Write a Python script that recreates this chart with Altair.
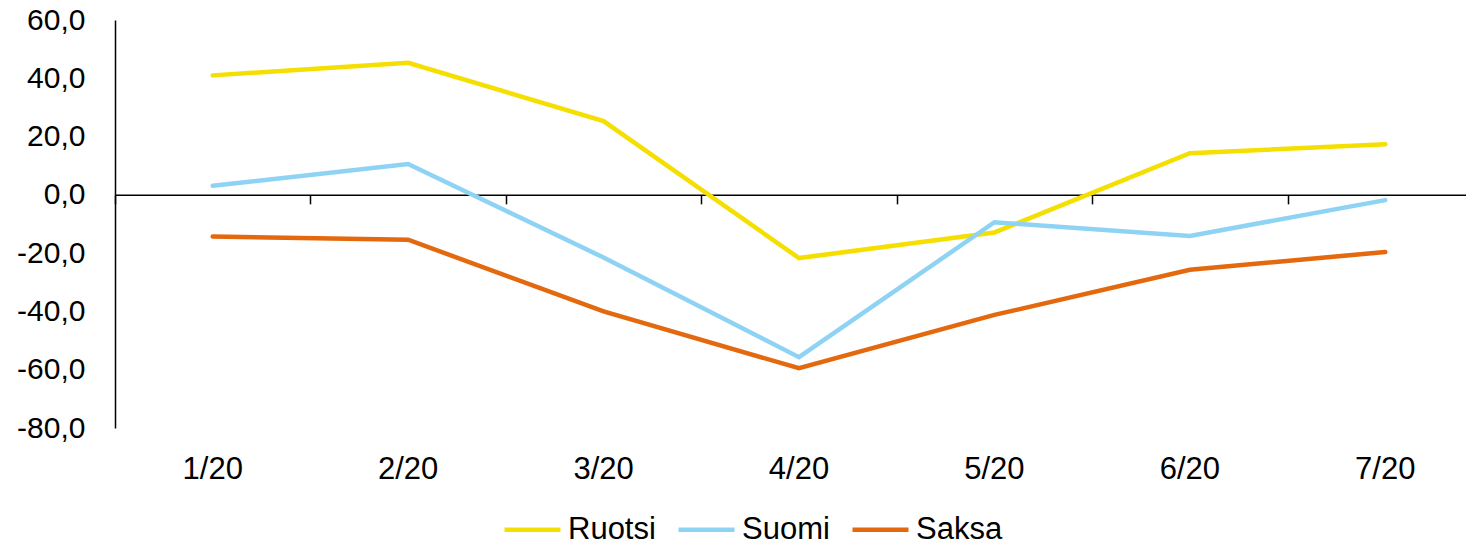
import altair as alt
import pandas as pd

months = ["1/20", "2/20", "3/20", "4/20", "5/20", "6/20", "7/20"]
series_names = ["Ruotsi", "Suomi", "Saksa"]
ruotsi = [41.0, 45.3, 25.3, -21.7, -12.9, 14.3, 17.4]
suomi = [3.1, 10.6, -21.5, -55.7, -9.4, -14.1, -1.8]
saksa = [-14.3, -15.4, -40.0, -59.5, -41.2, -25.7, -19.6]
colors = ["#F5DF00", "#8FD3F4", "#E3680E"]
y_ticks = [-80, -60, -40, -20, 0, 20, 40, 60]

rows = []
for name, vals in zip(series_names, [ruotsi, suomi, saksa]):
    for m, v in zip(months, vals):
        rows.append({"month": m, "series": name, "value": v})
df = pd.DataFrame(rows)

FONT = "Liberation Sans"
PLOT_H = 408
PLOT_W = 1351
RANGE_W = 1368
Y_MIN, Y_MAX = -80, 60
zero_offset = -PLOT_H * (0 - Y_MIN) / (Y_MAX - Y_MIN)

x_scale = alt.Scale(type="band", paddingInner=0, paddingOuter=0, range=[0, RANGE_W])
y_scale = alt.Scale(domain=[Y_MIN, Y_MAX], nice=False, zero=False)

y_enc = alt.Y("value:Q", scale=y_scale,
              axis=alt.Axis(values=y_ticks,
                            labelExpr="(datum.value < 0 ? '-' : '') + replace(format(abs(datum.value), '.1f'), '.', ',')",
                            domain=True, domainColor="black", domainWidth=1.5,
                            ticks=False, labelPadding=30, labelFontSize=30,
                            labelColor="black", labelFont=FONT, title=None, grid=False))

lines = alt.Chart(df).mark_line(strokeWidth=4.5, strokeCap="round").encode(
    x=alt.X("month:N", sort=months, scale=x_scale,
            axis=alt.Axis(orient="bottom", domain=False, ticks=False, labelAngle=0,
                          labelPadding=26, labelFontSize=31, labelColor="black",
                          labelFont=FONT, title=None, grid=False)),
    y=y_enc,
    color=alt.Color("series:N", sort=series_names,
                    scale=alt.Scale(domain=series_names, range=colors),
                    legend=alt.Legend(orient="none", legendX=387, legendY=479,
                                      direction="horizontal", title=None,
                                      symbolType="stroke", symbolSize=3136,
                                      symbolStrokeWidth=4.5, labelFontSize=31,
                                      labelFont=FONT, labelColor="black",
                                      labelOffset=5, columnPadding=13)),
)

zero_axis = alt.Chart(df).mark_point(opacity=0).encode(
    x=alt.X("month:N", sort=months, scale=x_scale,
            axis=alt.Axis(orient="bottom", offset=zero_offset, labels=False,
                          tickBand="extent", tickSize=9, tickWidth=1.5,
                          tickColor="black", domainColor="black", domainWidth=1.5,
                          title=None, grid=False)),
    y=y_enc,
)

chart = alt.layer(zero_axis, lines).resolve_axis(x="independent").properties(
    width=PLOT_W,
    height=PLOT_H,
    autosize=alt.AutoSizeParams(type="none"),
    padding={"left": 107, "top": 12, "right": 0, "bottom": 113},
).configure(font=FONT).configure_view(stroke=None)

chart.save("out.html", embed_options={"renderer": "svg", "actions": False})
